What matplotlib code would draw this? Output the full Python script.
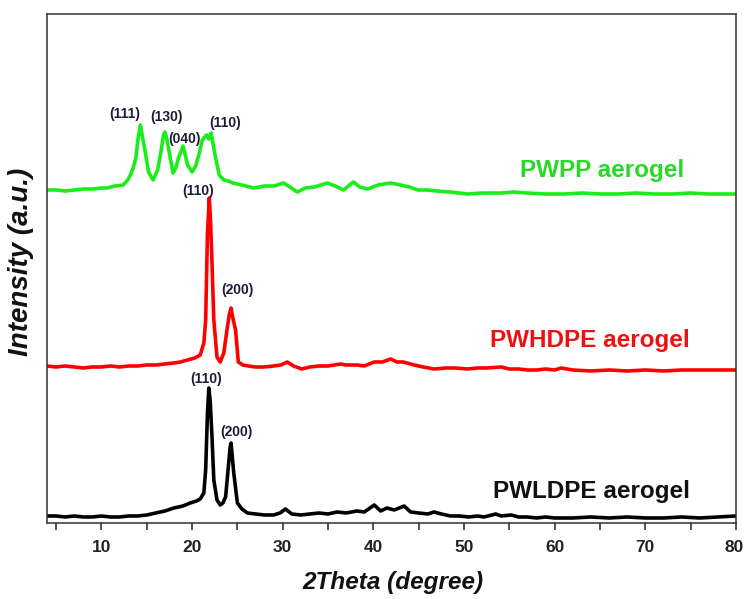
import matplotlib.pyplot as plt
from matplotlib.ticker import MultipleLocator
from matplotlib.transforms import ScaledTranslation

# XRD 衍射图数据（从图上读取，三条曲线已经叠加偏移）
ldpe_2theta = [4.0, 5, 6, 7, 8, 9, 10, 11, 12, 13,
               14, 15, 16, 17, 18, 19, 19.8, 20.5, 20.9, 21.3,
               21.5, 21.7, 21.85, 22.0, 22.2, 22.4, 22.75, 23.1, 23.4, 23.7,
               24.0, 24.2, 24.3, 24.6, 25.0, 25.5, 26.1, 27, 28, 29,
               29.7, 30.3, 31, 32, 33, 34, 35, 36, 37, 38.2,
               39, 40.1, 40.8, 41.5, 42.3, 43.4, 44.1, 45, 46, 46.7,
               47.5, 48.5, 49.5, 50.5, 51.5, 52.2, 53.5, 54.1, 55.2, 56,
               57, 58, 59, 60, 62, 64, 66, 68, 70, 72,
               74, 76, 78, 80]
ldpe_int = [7, 7, 6, 7, 6, 6, 7, 6, 6, 7,
            7, 8, 10, 12, 15, 17, 20, 22, 24, 30,
            53, 110, 135, 122, 86, 43, 23, 18, 20, 26,
            56, 76, 80, 50, 20, 14, 10, 9, 8, 8,
            10, 14, 9, 8, 9, 10, 9, 11, 10, 12,
            11, 18, 12, 15, 13, 17, 11, 10, 9, 11,
            9, 7, 7, 6, 7, 6, 9, 7, 8, 6,
            6, 5, 6, 5, 5, 6, 5, 6, 5, 5,
            6, 5, 6, 7]

hdpe_2theta = [4.0, 5, 6, 7, 8, 9, 10, 11, 12, 13,
               14, 15, 16, 17, 18, 18.7, 19.5, 20.3, 20.9, 21.3,
               21.5, 21.7, 21.9, 22.05, 22.2, 22.4, 22.75, 23.1, 23.5, 23.85,
               24.1, 24.3, 24.5, 24.8, 25.1, 25.6, 26.2, 27, 27.9, 29,
               29.8, 30.5, 31.2, 32.1, 33, 34, 35, 36.4, 37, 38.2,
               39, 40.1, 41, 41.9, 42.6, 43.3, 44.5, 45.5, 46.7, 48,
               49, 50.4, 51.5, 52.5, 54.1, 55, 56, 57, 58, 59,
               60, 60.7, 62, 64, 66, 68, 70, 72, 74, 76,
               78, 80]
hdpe_int = [157, 156, 157, 156, 155, 156, 156, 157, 156, 157,
            157, 158, 158, 159, 160, 161, 163, 165, 168, 180,
            203, 290, 325, 300, 260, 203, 166, 161, 170, 193,
            208, 215, 205, 193, 161, 158, 157, 156, 156, 157,
            158, 161, 157, 154, 156, 157, 157, 159, 158, 158,
            157, 161, 161, 164, 161, 161, 158, 156, 154, 155,
            155, 154, 155, 155, 156, 154, 154, 153, 153, 154,
            153, 155, 153, 152, 153, 152, 153, 152, 153, 153,
            153, 153]

pp_2theta = [4.0, 5, 6, 7, 8, 9, 10, 10.6, 11.5, 12.4,
             12.9, 13.2, 13.5, 13.8, 14.05, 14.3, 14.55, 14.8, 15.2, 15.7,
             16.2, 16.6, 16.85, 17.0, 17.2, 17.5, 17.9, 18.2, 18.5, 18.8,
             19.0, 19.2, 19.5, 20.0, 20.4, 20.8, 21.1, 21.3, 21.6, 21.85,
             22.1, 22.3, 22.6, 23.0, 23.5, 24.0, 24.5, 25.5, 26.8, 28,
             29, 30.1, 30.8, 31.6, 32.5, 33.5, 34.9, 35.8, 36.7, 37.8,
             38.5, 39.4, 40.5, 41.9, 43, 44, 44.9, 46, 47, 48.5,
             50.4, 52, 54.1, 55.5, 57, 59, 61, 63, 65, 67,
             69, 71, 73, 75, 77, 80]
pp_int = [333, 333, 332, 333, 334, 334, 335, 335, 337, 338,
          343, 348, 355, 365, 385, 398, 385, 373, 351, 343,
          353, 373, 388, 391, 385, 370, 350, 355, 365, 372,
          377, 370, 358, 351, 357, 370, 382, 385, 388, 384,
          390, 380, 365, 348, 343, 342, 340, 338, 335, 337,
          337, 340, 336, 331, 335, 336, 340, 337, 333, 341,
          336, 334, 338, 340, 338, 336, 333, 333, 332, 331,
          329, 330, 330, 331, 330, 329, 329, 330, 329, 329,
          330, 329, 329, 330, 329, 329]

series_names = ['PWPP aerogel', 'PWHDPE aerogel', 'PWLDPE aerogel']
series_colors = ['#1aee1a', '#ff0000', '#000000']
label_colors = ['#2ad82a', '#ee1111', '#111111']

# 晶面标注
peak_labels = ['(111)', '(130)', '(040)', '(110)', '(110)', '(200)', '(110)', '(200)']
peak_x = [12.6, 17.2, 19.2, 23.7, 20.7, 25.0, 21.5, 24.85]
peak_y = [409, 406, 384, 400, 332, 233, 144, 91]

plt.rcParams['font.family'] = ['Liberation Sans', 'DejaVu Sans']

fig = plt.figure(figsize=(7.44, 5.99), dpi=100)
ax = fig.add_axes([0.0632, 0.1269, 0.926, 0.8497])

ax.plot(pp_2theta, pp_int, color=series_colors[0], lw=2.6)
ax.plot(hdpe_2theta, hdpe_int, color=series_colors[1], lw=2.6)
ax.plot(ldpe_2theta, ldpe_int, color=series_colors[2], lw=2.6)

for t, x, y in zip(peak_labels, peak_x, peak_y):
    ax.text(x, y, t, ha='center', va='center', fontsize=10,
            fontweight='bold', color='#1c1c38')

name_x = [65.2, 63.9, 64.1]
name_y = [353, 182, 31]
for name, c, x, y in zip(series_names, label_colors, name_x, name_y):
    ax.text(x, y, name, ha='center', va='center', fontsize=17.5,
            fontweight='bold', color=c)

ax.set_xlim(4, 80)
ax.set_ylim(0, 509)
ax.xaxis.set_minor_locator(MultipleLocator(5))
ax.set_xticks([10, 20, 30, 40, 50, 60, 70, 80])
ax.set_xticklabels(['10', '20', '30', '40', '50', '60', '70', ''])
ax.set_yticks([])
ax.tick_params(axis='x', which='both', direction='out', length=5,
               width=1.2, color='#333333', pad=7)
for lab in ax.get_xticklabels():
    lab.set_fontweight('bold')
    lab.set_fontsize(12.5)
    lab.set_color('#222222')
for s in ax.spines.values():
    s.set_color('#333333')
    s.set_linewidth(1.1)

# 最后一个刻度标签贴着右边缘，稍微往左挪一点（刻度长 5pt + 间距 7pt）
off = ScaledTranslation(-2 / 100, -12 / 72, fig.dpi_scale_trans)
ax.text(80, 0, '80', transform=ax.get_xaxis_transform() + off,
        ha='center', va='top', fontsize=12.5, fontweight='bold',
        color='#222222')

fig.text(0.528, 0.028, '2Theta (degree)', ha='center', va='center',
         fontsize=17.5, fontweight='bold', style='italic', color='#111111')
fig.text(0.028, 0.563, 'Intensity (a.u.)', ha='center', va='center',
         rotation=90, fontsize=20, fontweight='bold', style='italic',
         color='#111111')

fig.savefig('out.png', dpi=100)
